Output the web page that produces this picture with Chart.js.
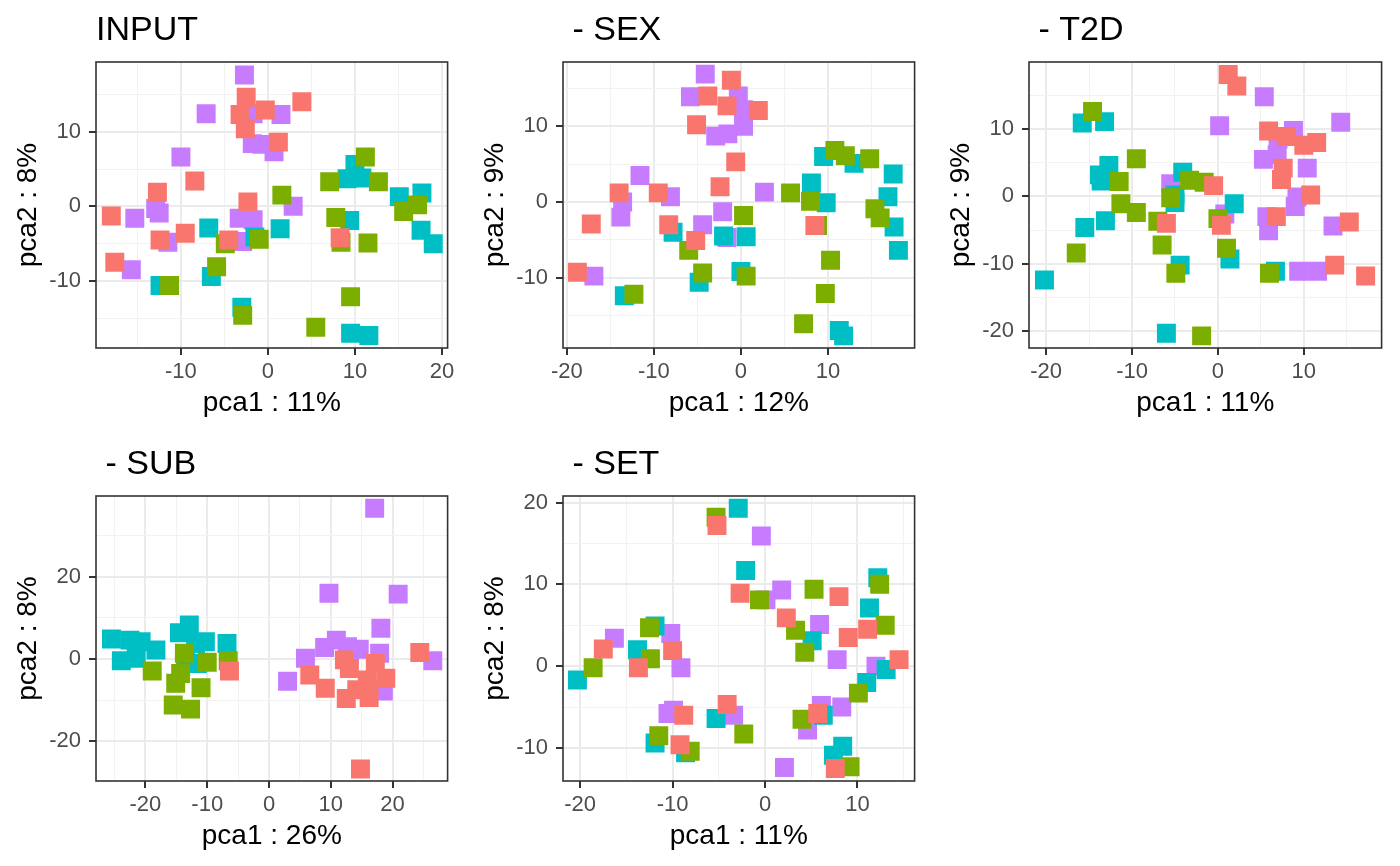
<!DOCTYPE html>
<html>
<head>
<meta charset="utf-8">
<script src="https://cdn.jsdelivr.net/npm/chart.js@4.4.1/dist/chart.umd.min.js"></script>
<style>
  body { margin: 0; background: #fff; }
  .panel { position: absolute; }
</style>
</head>
<body>
<div class="panel" id="p1" style="left:0px;top:0px;width:461px;height:420px"><canvas id="c1"></canvas></div>
<div class="panel" id="p2" style="left:467px;top:0px;width:461px;height:420px"><canvas id="c2"></canvas></div>
<div class="panel" id="p3" style="left:933px;top:0px;width:462px;height:420px"><canvas id="c3"></canvas></div>
<div class="panel" id="p4" style="left:0px;top:434px;width:461px;height:419px"><canvas id="c4"></canvas></div>
<div class="panel" id="p5" style="left:467px;top:434px;width:461px;height:419px"><canvas id="c5"></canvas></div>
<script>
// group colours (ggplot defaults)
const groupColors = ['#F8766D', '#7CAE00', '#00BFC4', '#C77CFF'];

// INPUT
const inputRed = [[-2.5,14.6],[3.9,14.0],[-3.2,12.3],[-0.3,12.9],[-2.6,10.4],[1.2,8.6],[-8.4,3.4],[-12.7,1.9],[-18.0,-1.3],[-2.3,0.6],[-9.5,-3.6],[-12.4,-4.5],[-4.5,-4.5],[-17.6,-7.5],[8.3,-4.2]];
const inputGreen = [[1.6,1.5],[-4.9,-5.0],[-1.0,-4.4],[-5.9,-8.1],[-11.3,-10.6],[-2.9,-14.6],[5.5,-16.2],[9.5,-12.1],[11.2,6.6],[7.1,3.3],[12.7,3.3],[17.2,0.2],[15.6,-0.7],[7.8,-1.5],[8.4,-4.8],[11.5,-4.9]];
const inputCyan = [[-6.8,-2.9],[-1.5,-4.1],[1.4,-3.0],[-6.5,-9.4],[-12.4,-10.6],[-3.0,-13.5],[9.5,-17.0],[11.6,-17.3],[10.0,5.6],[9.1,3.7],[10.8,3.8],[15.1,1.3],[17.7,1.8],[9.4,-1.9],[17.6,-3.2],[19.0,-5.0]];
const inputPurple = [[-2.7,17.6],[-7.1,12.4],[-1.7,12.4],[1.5,12.3],[-1.8,8.4],[-0.7,8.3],[0.7,7.3],[-10.0,6.6],[-12.9,-0.3],[-12.5,-0.9],[-15.3,-1.6],[2.9,0.0],[-3.3,-1.6],[-1.7,-1.8],[-11.5,-4.8],[-2.9,-4.7],[-15.7,-8.5]];

// - SEX
const sexRed = [[-1.1,16.1],[-3.8,14.0],[-1.6,12.7],[2.0,12.1],[-5.1,10.2],[-0.6,5.3],[-14.0,1.2],[-9.5,1.2],[-2.4,2.0],[-17.2,-2.9],[-8.3,-3.0],[-5.2,-5.1],[-18.8,-9.3],[8.5,-3.1]];
const sexGreen = [[0.3,-1.8],[-6.0,-6.4],[-4.4,-9.4],[0.6,-9.8],[-12.3,-12.2],[7.2,-16.1],[9.7,-12.1],[10.3,-7.7],[5.7,1.2],[8.0,0.1],[8.8,-3.1],[10.8,6.8],[12.0,6.1],[14.8,5.7],[15.4,-0.9],[16.0,-2.1]];
const sexCyan = [[-7.8,-4.0],[-2.0,-4.5],[0.6,-4.6],[-4.8,-10.6],[0.0,-9.2],[-13.4,-12.4],[11.3,-17.0],[11.8,-17.7],[8.1,2.5],[9.8,-0.1],[9.5,6.0],[13.0,5.1],[17.5,3.7],[16.9,0.7],[17.6,-3.3],[18.1,-6.4]];
const sexPurple = [[-4.1,16.9],[-5.8,13.9],[-0.3,14.0],[0.3,12.2],[0.3,10.0],[-2.9,8.7],[-1.5,9.0],[-11.6,3.5],[-13.6,0.0],[-8.1,0.7],[2.7,1.3],[-13.8,-2.0],[-2.1,-1.3],[-4.4,-3.0],[-1.6,-4.7],[-16.9,-9.8]];

// - T2D
const t2dRed = [[1.2,18.1],[2.2,16.4],[5.9,9.7],[8.0,8.9],[10.0,7.6],[11.5,8.0],[7.6,4.2],[7.4,2.5],[10.8,0.2],[-0.5,1.6],[6.8,-3.0],[15.3,-3.8],[13.6,-10.2],[17.2,-11.8],[0.4,-4.3],[-6.0,-4.0]];
const t2dGreen = [[6.0,-11.4],[0.0,-3.3],[1.0,-7.7],[-3.3,2.4],[-1.6,2.1],[-5.5,-0.2],[-7.0,-3.7],[-6.5,-7.2],[-4.9,-11.4],[-1.9,-20.7],[-9.5,5.6],[-14.6,12.6],[-11.5,2.2],[-11.3,-1.1],[-9.5,-2.4],[-16.5,-8.4]];
const t2dCyan = [[6.7,-11.1],[1.9,-1.1],[1.4,-9.3],[-4.1,3.6],[-5.0,0.2],[-5.0,-0.9],[-4.4,-10.2],[-6.0,-20.3],[-15.8,10.9],[-13.2,11.1],[-12.7,4.6],[-13.8,3.2],[-13.6,2.3],[-13.1,-3.6],[-15.5,-4.6],[-20.2,-12.4]];
const t2dPurple = [[5.4,14.8],[0.2,10.5],[14.3,11.0],[8.8,9.8],[7.0,8.5],[5.3,5.5],[6.9,6.2],[10.4,4.2],[9.2,-0.1],[9.0,-1.5],[5.7,-3.0],[5.9,-5.1],[13.4,-4.4],[9.4,-11.1],[11.6,-11.1],[0.8,-2.6],[-5.5,1.9]];

// - SUB
const subRed = [[24.4,1.6],[6.6,-3.9],[9.1,-7.1],[12.5,-9.6],[16.2,-9.4],[13.0,-2.3],[17.2,-1.1],[18.9,-4.7],[15.9,-5.1],[14.2,-7.5],[14.8,-26.8],[12.2,-0.2],[-6.4,-2.9]];
const subGreen = [[-18.9,-2.9],[-15.1,-5.9],[-11.0,-7.0],[-15.5,-11.2],[-12.7,-12.2],[-10.0,-0.8],[-6.6,-0.4],[-14.3,-3.5],[-13.7,1.4]];
const subCyan = [[-25.5,4.9],[-22.5,4.6],[-20.7,4.2],[-18.3,2.2],[-23.9,-0.4],[-21.5,0.2],[-14.5,6.4],[-12.9,8.3],[-10.3,4.2],[-6.8,3.8],[-13.5,1.0],[-11.6,-1.1],[-11.9,3.8]];
const subPurple = [[17.1,36.7],[9.7,16.0],[20.9,15.8],[18.1,7.5],[26.5,-0.4],[3.0,-5.4],[5.9,0.2],[9.0,2.8],[10.9,4.6],[12.7,3.0],[14.6,2.4],[13.0,0.8],[17.9,1.4],[18.5,-7.8]];

// - SET
const setRed = [[-5.2,17.2],[-2.7,8.9],[8.0,8.5],[2.3,5.9],[9.0,3.5],[11.1,4.5],[14.5,0.8],[5.7,-5.8],[7.6,-12.5],[-4.1,-4.7],[-8.8,-6.0],[-9.2,-9.6],[-17.5,2.1],[-13.7,-0.2],[-10.0,1.9]];
const setGreen = [[-5.3,18.2],[-0.6,8.1],[5.3,9.4],[12.4,10.0],[3.3,4.4],[4.3,1.7],[13.0,5.0],[10.1,-3.3],[4.0,-6.5],[9.2,-12.3],[-2.3,-8.3],[-11.5,-8.5],[-8.1,-10.4],[-18.6,-0.2],[-12.5,4.7],[-12.4,0.9]];
const setCyan = [[-2.9,19.3],[-2.1,11.7],[12.2,10.8],[5.1,3.1],[11.3,7.1],[13.1,-0.4],[11.0,-2.0],[6.3,-6.0],[8.4,-9.8],[7.4,-10.9],[-5.3,-6.4],[-11.9,-9.4],[-8.6,-10.6],[-20.3,-1.7],[-11.9,4.9],[-13.8,2.0]];
const setPurple = [[-0.4,15.9],[0.1,8.1],[1.8,9.3],[5.9,5.1],[7.8,0.8],[12.0,0.0],[8.3,-5.0],[6.1,-4.8],[4.6,-7.8],[2.1,-12.4],[-3.4,-6.0],[-10.5,-5.8],[-9.9,-5.4],[-16.3,3.4],[-10.2,4.0],[-9.1,-0.2]];

// titles, axis labels, ranges and tick labels
const panelTitles = ['INPUT', ' - SEX', ' - T2D', ' - SUB', ' - SET'];
const xTitles = ['pca1 : 11%', 'pca1 : 12%', 'pca1 : 11%', 'pca1 : 26%', 'pca1 : 11%'];
const yTitles = ['pca2 : 8%', 'pca2 : 9%', 'pca2 : 9%', 'pca2 : 8%', 'pca2 : 8%'];
const xRanges = [[-19.76, 20.65], [-20.45, 19.96], [-22.0, 19.06], [-28.0, 28.9], [-21.86, 16.18]];
const yRanges = [[-18.97, 19.33], [-19.3, 18.5], [-22.5, 19.95], [-29.7, 39.7], [-14.04, 20.8]];
const xTickLabels = [[-10, 0, 10, 20], [-20, -10, 0, 10], [-20, -10, 0, 10], [-20, -10, 0, 10, 20], [-20, -10, 0, 10]];
const yTickLabels = [[-10, 0, 10], [-10, 0, 10], [-20, -10, 0, 10], [-20, 0, 20], [-10, 0, 10, 20]];
const xMinorSteps = [5, 5, 5, 5, 5];
const yMinorSteps = [5, 5, 5, 10, 5];

const panelData = [
    [inputRed, inputGreen, inputCyan, inputPurple],
    [sexRed, sexGreen, sexCyan, sexPurple],
    [t2dRed, t2dGreen, t2dCyan, t2dPurple],
    [subRed, subGreen, subCyan, subPurple],
    [setRed, setGreen, setCyan, setPurple]
];

const FONT = "'Liberation Sans', Arial, sans-serif";

// panel border + title drawn on top
const framePlugin = {
    id: 'frame',
    afterDraw(chart, args, opts) {
        const { ctx, chartArea: a } = chart;
        ctx.save();
        ctx.strokeStyle = '#333333';
        ctx.lineWidth = 1.6;
        ctx.strokeRect(a.left, a.top, a.right - a.left, a.bottom - a.top);
        ctx.fillStyle = '#000';
        ctx.font = `34px ${FONT}`;
        ctx.textAlign = 'left';
        ctx.textBaseline = 'alphabetic';
        ctx.fillText(opts.text, a.left, a.top - 22);
        ctx.restore();
    }
};

function axisOptions(range, labels, step, title, isX) {
    const isMajor = v => labels.some(l => Math.abs(l - v) < 1e-6);
    return {
        type: 'linear',
        min: range[0],
        max: range[1],
        afterFit: scale => {
            if (isX) {
                scale.height = 72;
                // keep plot edges fixed, labels may overhang into the margin
                scale.paddingLeft = 0;
                scale.paddingRight = 0;
            } else {
                scale.width = 96;
                scale.paddingTop = 0;
                scale.paddingBottom = 0;
            }
        },
        ticks: {
            stepSize: step,
            includeBounds: false,
            autoSkip: false,
            maxRotation: 0,
            padding: isX ? 4 : 8,
            color: '#4D4D4D',
            font: { family: FONT, size: 22 },
            callback: v => isMajor(v) ? String(Math.round(v)) : ''
        },
        grid: {
            color: c => isMajor(c.tick.value) ? '#EBEBEB' : '#F2F2F2',
            lineWidth: c => isMajor(c.tick.value) ? 2 : 1,
            tickColor: c => isMajor(c.tick.value) ? '#333333' : 'rgba(0,0,0,0)',
            tickWidth: 2,
            tickLength: 7
        },
        border: { display: false },
        title: {
            display: true,
            text: title,
            color: '#000',
            font: { family: FONT, size: 28 },
            padding: isX ? { top: 0, bottom: 0 } : { top: 11, bottom: 0 }
        }
    };
}

function initPanel(i) {
    const ctx = document.getElementById('c' + (i + 1));
    new Chart(ctx, {
        type: 'scatter',
        data: {
            datasets: panelData[i].map((pts, g) => ({
                data: pts.map(p => ({ x: p[0], y: p[1] })),
                backgroundColor: groupColors[g],
                borderWidth: 0,
                pointStyle: 'rect',
                pointRadius: 13.4,
                pointHoverRadius: 13.4
            }))
        },
        options: {
            responsive: true,
            maintainAspectRatio: false,
            animation: false,
            events: [],
            layout: { padding: { top: 62, left: 0, right: 10, bottom: 0 } },
            plugins: {
                legend: { display: false },
                tooltip: { enabled: false },
                frame: { text: panelTitles[i] }
            },
            scales: {
                x: axisOptions(xRanges[i], xTickLabels[i], xMinorSteps[i], xTitles[i], true),
                y: axisOptions(yRanges[i], yTickLabels[i], yMinorSteps[i], yTitles[i], false)
            }
        },
        plugins: [framePlugin]
    });
}

document.addEventListener('DOMContentLoaded', () => {
    for (let i = 0; i < 5; i++) initPanel(i);
});
</script>
</body>
</html>
